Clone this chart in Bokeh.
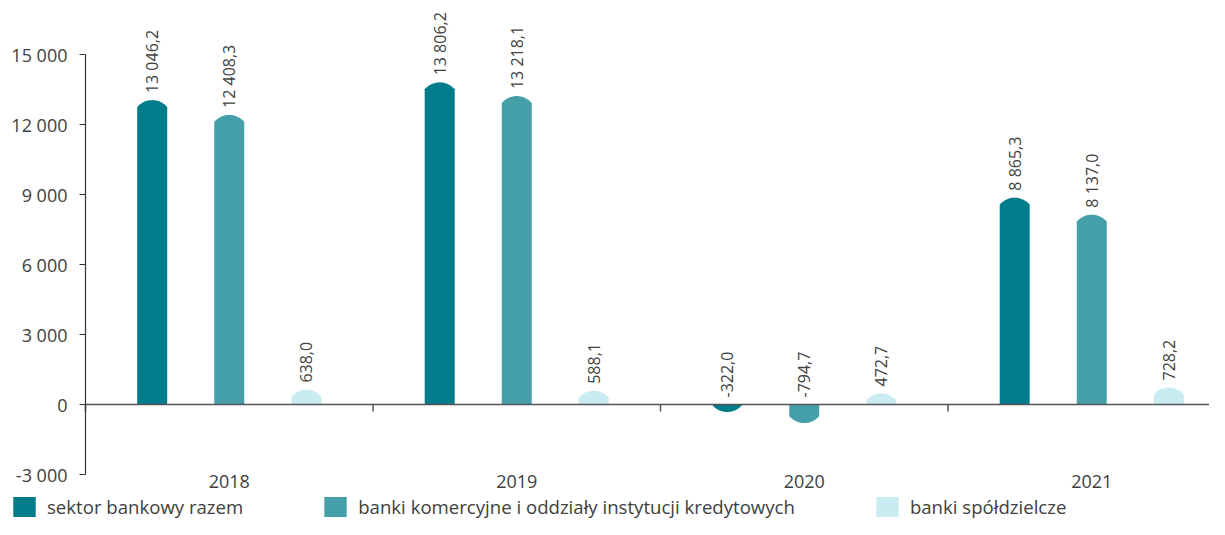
import math
from bokeh.plotting import figure
from bokeh.models import (Range1d, FixedTicker, ColumnDataSource, Legend, LegendItem)
from bokeh.core.properties import value
from bokeh.embed import file_html
from bokeh.resources import INLINE

# ---- data ----
years = ["2018", "2019", "2020", "2021"]
sector = [13046.2, 13806.2, -322.0, 8865.3]
commercial = [12408.3, 13218.1, -794.7, 8137.0]
cooperative = [638.0, 588.1, 472.7, 728.2]
series_names = ["sektor bankowy razem",
                "banki komercyjne i oddziały instytucji kredytowych",
                "banki spółdzielcze"]
series_colors = ["#007c8a", "#449fa8", "#c8ecf2"]
y_ticks = [-3000, 0, 3000, 6000, 9000, 12000, 15000]

# ---- layout constants (pixels on the canvas) ----
W, H = 1209, 519
AXIS_X = 85          # y axis position
Y_TOP_PX, Y_BOT_PX = 54, 474   # where 15000 and -3000 sit
group_px = 287.5
x_lo = -AXIS_X / group_px
x_hi = (W - AXIS_X) / group_px
y_lo, y_hi = -3000, 15000
py = (Y_BOT_PX - Y_TOP_PX) / (y_hi - y_lo)
y_range_top = y_hi + Y_TOP_PX / py
y_range_bot = y_lo - (H - Y_BOT_PX) / py
offsets = [-0.268, 0.0, 0.268]
half_w_px, cap_px = 15.0, 7.0
FONT = "Open Sans"
TXT = "#404040"


def fmt(v):
    s = f"{v:,.1f}"
    return s.replace(",", " ").replace(".", ",")


p = figure(width=W, height=H, output_backend="svg", toolbar_location=None,
           x_range=Range1d(x_lo, x_hi), y_range=Range1d(y_range_bot, y_range_top),
           min_border=0)
p.outline_line_color = None
p.grid.visible = False
p.background_fill_color = "white"
p.border_fill_color = "white"

R = (half_w_px ** 2 + cap_px ** 2) / (2 * cap_px)
n_arc = 24

all_series = [sector, commercial, cooperative]
items = []
for si, vals in enumerate(all_series):
    xs, ys = [], []
    lx, ly, lt = [], [], []
    for i, v in enumerate(vals):
        c = i + 0.5 + offsets[si]
        s = 1 if v >= 0 else -1
        hw = half_w_px / group_px
        cap_h_px = min(cap_px, abs(v) * py)
        base = v - s * cap_h_px / py
        px_list = [c - hw]
        py_list = [0.0]
        for k in range(n_arc + 1):
            t = -1 + 2 * k / n_arc
            xp = t * half_w_px
            yp = math.sqrt(R * R - xp * xp) - (R - cap_px)
            yp = yp * cap_h_px / cap_px
            px_list.append(c + xp / group_px)
            py_list.append(base + s * yp / py)
        px_list.append(c + hw)
        py_list.append(0.0)
        xs.append(px_list)
        ys.append(py_list)
        lx.append(c)
        ly.append(max(v, 0))
        lt.append(fmt(v))
    r = p.patches(xs=xs, ys=ys, fill_color=series_colors[si], line_color=None)
    items.append(LegendItem(label=series_names[si], renderers=[r]))
    src = ColumnDataSource(dict(x=lx, y=ly, t=lt))
    p.text(x="x", y="y", text="t", source=src, angle=math.pi / 2,
           text_align="left", text_baseline="middle", y_offset=-7,
           text_font=value(FONT), text_font_size="16px", text_color=TXT)

# zero line and group separators
bounds = list(range(len(years)))
tick_len = 7 / py
p.segment(x0=bounds, x1=bounds, y0=[0] * len(bounds), y1=[-tick_len] * len(bounds),
          line_color="#555555", line_width=1.5)
p.segment(x0=[0], x1=[x_hi], y0=[0], y1=[0], line_color="#555555", line_width=1.5)

# y axis (fixed at x = 0)
ya = p.yaxis[0]
ya.fixed_location = 0
ya.bounds = (y_lo, y_hi)
ya.ticker = FixedTicker(ticks=y_ticks)
ya.major_label_overrides = {t: fmt(t)[:-2] for t in y_ticks}
ya.axis_line_color = "#333333"
ya.axis_line_width = 1.2
ya.major_tick_line_color = "#333333"
ya.major_tick_in = 0
ya.major_tick_out = 6
ya.minor_tick_line_color = None
ya.major_label_standoff = 12
ya.major_label_text_font = FONT
ya.major_label_text_font_size = "18px"
ya.major_label_text_color = TXT

# x axis (labels only, fixed at y = -3000)
xa = p.xaxis[0]
xa.fixed_location = y_lo
xa.ticker = FixedTicker(ticks=[i + 0.5 for i in range(len(years))])
xa.major_label_overrides = {i + 0.5: y for i, y in enumerate(years)}
xa.axis_line_color = None
xa.major_tick_line_color = None
xa.major_tick_out = 0
xa.minor_tick_line_color = None
xa.major_label_standoff = 0
xa.major_label_text_font = FONT
xa.major_label_text_font_size = "18px"
xa.major_label_text_color = TXT

# legend
lg = Legend(items=items, location=(10, 0), orientation="horizontal",
            spacing=78, label_standoff=9, glyph_width=28, glyph_height=25,
            padding=0, margin=0, border_line_color=None, background_fill_alpha=0,
            label_text_font=FONT, label_text_font_size="18.6px", label_text_color=TXT)
p.add_layout(lg, "center")

open("out.html", "w").write(file_html(p, INLINE))
